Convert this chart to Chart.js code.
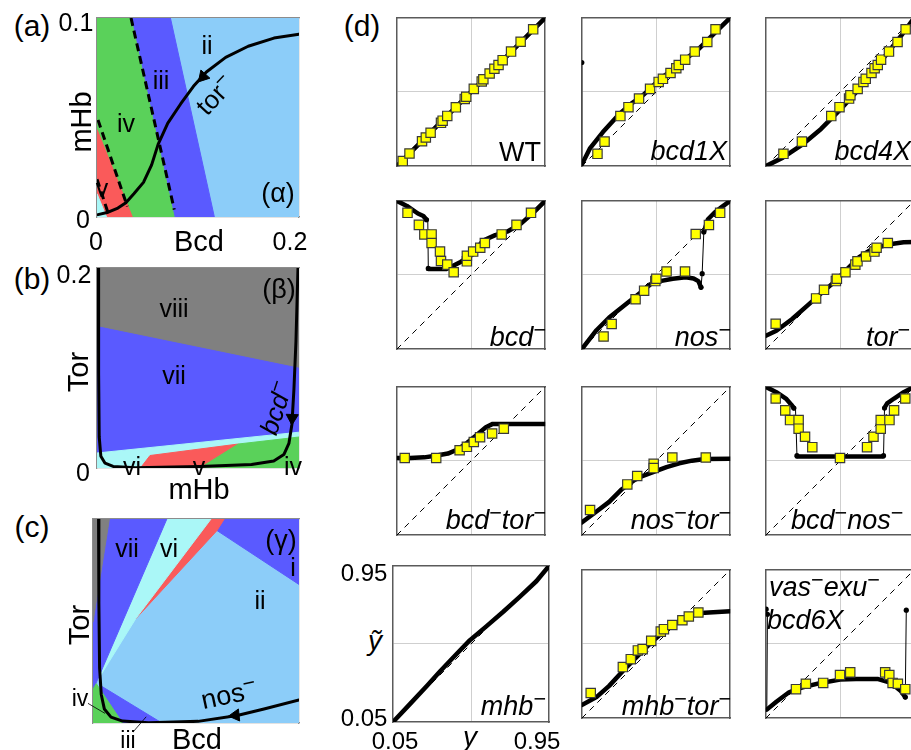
<!DOCTYPE html>
<html>
<head>
<meta charset="utf-8">
<script src="https://cdn.jsdelivr.net/npm/chart.js@4.4.1/dist/chart.umd.min.js"></script>
<style>
html, body { margin: 0; padding: 0; background: #fff; }
#fig { position: relative; width: 911px; height: 750px; overflow: hidden; background: #fff;
       font-family: 'Liberation Sans', Arial, sans-serif; color: #000; }
.box { position: absolute; }
.t { position: absolute; white-space: nowrap; line-height: 1; z-index: 5; }
.m { position: relative; top: -0.42em; font-size: 0.8em; font-style: normal; }
</style>
</head>
<body>
<div id="fig"></div>
<script>
// ---------- panel (a): Bcd / mHb phase plane ----------
const aBlue  = [[0, 0.1], [0.0727, 0.1], [0.1162, 0]];
const aGreen = [[0, 0.1], [0.0337, 0.1], [0.0764, 0]];
const aRed   = [[0, 0.044], [0.035, 0]];
const aCyan  = [[0, 0.0117], [0.0095, 0]];
const aDash1 = [[0.0337, 0.1], [0.0765, 0.0037]];
const aDash2 = [[0.001, 0.0488], [0.030, 0.0053]];
const aDash3 = [[0, 0.019], [0.011, 0.002]];
const aTor = [[0.001, 0.0012], [0.0111, 0.0024], [0.0207, 0.0045], [0.0286, 0.0072], [0.0365, 0.0117],
  [0.046, 0.0174], [0.0541, 0.0262], [0.0605, 0.0365], [0.0701, 0.0472], [0.0828, 0.0568],
  [0.0955, 0.0657], [0.1083, 0.0729], [0.1274, 0.0802], [0.1497, 0.0858], [0.1752, 0.0899], [0.2, 0.0919]];
const aArrow = [[0.105, 0.0705]];

// ---------- panel (b): mHb / Tor ----------
const bBlue  = [[0, 0.1414], [0.2, 0.0998]];
const bCyan  = [[0, 0.015], [0.2, 0.0358]];
const bRed   = [[0.043, 0], [0.0525, 0.0125], [0.140, 0.024]];
const bGreen = [[0.1019, 0], [0.140, 0.024], [0.2, 0.031]];
const bBcd = [[0.0013, 0.2], [0.0016, 0.095], [0.0022, 0.031], [0.0038, 0.0118], [0.008, 0.0048],
  [0.016, 0.0016], [0.038, 0.0003], [0.102, 0.0016], [0.153, 0.0035], [0.175, 0.007], [0.185, 0.0134],
  [0.190, 0.0246], [0.193, 0.0438], [0.195, 0.079], [0.197, 0.127], [0.199, 0.2]];
const bArrow = [[0.1932, 0.05]];

// ---------- panel (c): Bcd / Tor ----------
const cGray   = [[0, 0.0989], [0.0159, 0.2]];
const cViolet = [[0, 0.0321], [0.0717, 0.2]];
const cCyan   = [[0, 0.0347], [0.0414, 0.1021], [0.1146, 0.2]];
const cRed    = [[0.0414, 0.1021], [0.1204, 0.1887], [0.1274, 0.2]];
const cBlueI  = [[0.1204, 0.1887], [0.2, 0.1358]];
const cBlueIII = [[0.0064, 0.0372], [0.0669, 0]];
const cGreen  = [[0, 0.0331], [0.0032, 0.0385], [0.0287, 0]];
const cNos = [[0.0054, 0.2], [0.0057, 0.118], [0.0064, 0.054], [0.008, 0.028], [0.011, 0.0138],
  [0.0175, 0.0058], [0.0287, 0.0019], [0.054, 0.0003], [0.102, 0.0016], [0.140, 0.0074],
  [0.166, 0.0138], [0.2, 0.0225]];
const cArrow = [[0.1384, 0.0075]];
const cLeadIV  = [[-0.0048, 0.0192], [0.0114, 0.0096]];
const cLeadIII = [[0.039, -0.0087], [0.0514, 0.0058]];

// ---------- panel (d): model (curve) vs data (squares) ----------
const diag = [[0.05, 0.05], [0.95, 0.95]];

const wtCurve = [[0.05, 0.05], [0.95, 0.95]];
const wtSq = [[0.086, 0.081], [0.127, 0.127], [0.203, 0.201], [0.226, 0.224], [0.255, 0.253], [0.318, 0.313],
  [0.328, 0.326], [0.356, 0.355], [0.408, 0.407], [0.462, 0.458], [0.471, 0.471], [0.517, 0.519],
  [0.565, 0.564], [0.575, 0.577], [0.613, 0.612], [0.642, 0.641], [0.667, 0.664], [0.692, 0.693],
  [0.743, 0.745], [0.801, 0.805], [0.877, 0.880]];

const b1Curve = [[0.05, 0.06], [0.1005, 0.160], [0.178, 0.257], [0.275, 0.364], [0.352, 0.431], [0.410, 0.470],
  [0.468, 0.524], [0.526, 0.582], [0.602, 0.635], [0.681, 0.702], [0.758, 0.760], [0.855, 0.857], [0.95, 0.95]];
const b1Thin = [[0.05, 0.05], [0.05, 0.679]];
const b1Dots = [[0.05, 0.679]];
const b1Sq = [[0.145, 0.125], [0.188, 0.199], [0.284, 0.354], [0.333, 0.408], [0.397, 0.460], [0.464, 0.519],
  [0.516, 0.561], [0.542, 0.580], [0.588, 0.615], [0.623, 0.644], [0.638, 0.664], [0.677, 0.696],
  [0.735, 0.745], [0.811, 0.803], [0.861, 0.880]];

const b4Curve = [[0.05, 0.05], [0.153, 0.102], [0.269, 0.179], [0.385, 0.276], [0.501, 0.393], [0.598, 0.499],
  [0.694, 0.615], [0.791, 0.741], [0.869, 0.838], [0.95, 0.95]];
const b4Sq = [[0.157, 0.125], [0.269, 0.199], [0.447, 0.354], [0.497, 0.408], [0.555, 0.460], [0.563, 0.480],
  [0.607, 0.519], [0.642, 0.561], [0.656, 0.580], [0.691, 0.615], [0.710, 0.644], [0.729, 0.664],
  [0.749, 0.696], [0.797, 0.745], [0.849, 0.803], [0.898, 0.880]];

const bmCurve1 = [[0.05, 0.95], [0.111, 0.919], [0.178, 0.873], [0.211, 0.858], [0.230, 0.835]];
const bmThin = [[0.230, 0.835], [0.238, 0.823], [0.241, 0.540]];
const bmCurve2 = [[0.241, 0.537], [0.351, 0.537], [0.389, 0.554], [0.437, 0.579], [0.513, 0.627], [0.571, 0.708],
  [0.647, 0.742], [0.724, 0.765], [0.801, 0.810], [0.877, 0.877], [0.95, 0.95]];
const bmDots = [[0.230, 0.835], [0.241, 0.540]];
const bmSq = [[0.115, 0.877], [0.184, 0.804], [0.217, 0.746], [0.261, 0.746], [0.261, 0.694], [0.312, 0.642],
  [0.318, 0.585], [0.356, 0.563], [0.395, 0.517], [0.475, 0.583], [0.475, 0.617], [0.513, 0.642],
  [0.556, 0.665], [0.584, 0.694], [0.686, 0.746], [0.776, 0.804], [0.864, 0.877]];

const nmCurve1 = [[0.05, 0.05], [0.139, 0.165], [0.216, 0.242], [0.313, 0.319], [0.409, 0.396], [0.467, 0.444],
  [0.525, 0.463], [0.602, 0.477], [0.680, 0.486], [0.728, 0.479], [0.757, 0.463], [0.773, 0.425]];
const nmThin = [[0.773, 0.425], [0.780, 0.508], [0.790, 0.761]];
const nmCurve2 = [[0.790, 0.761], [0.815, 0.838], [0.854, 0.877], [0.902, 0.915], [0.95, 0.95]];
const nmDots = [[0.773, 0.425], [0.780, 0.508], [0.790, 0.761]];
const nmSq = [[0.182, 0.127], [0.231, 0.203], [0.376, 0.353], [0.428, 0.405], [0.496, 0.463], [0.502, 0.477],
  [0.564, 0.521], [0.676, 0.521], [0.741, 0.748], [0.821, 0.803], [0.889, 0.877]];

const tmCurve = [[0.05, 0.131], [0.114, 0.162], [0.210, 0.233], [0.307, 0.319], [0.384, 0.387], [0.461, 0.454],
  [0.539, 0.531], [0.616, 0.608], [0.693, 0.656], [0.790, 0.685], [0.886, 0.698], [0.95, 0.70]];
const tmSq = [[0.110, 0.204], [0.355, 0.358], [0.403, 0.410], [0.475, 0.463], [0.481, 0.477], [0.533, 0.517],
  [0.593, 0.563], [0.606, 0.583], [0.658, 0.612], [0.709, 0.642], [0.722, 0.665], [0.790, 0.694]];

const btCurve = [[0.05, 0.518], [0.130, 0.518], [0.217, 0.522], [0.284, 0.532], [0.360, 0.545], [0.418, 0.570],
  [0.475, 0.609], [0.533, 0.657], [0.590, 0.705], [0.632, 0.725], [0.95, 0.725]];
const btSq = [[0.098, 0.518], [0.289, 0.518], [0.431, 0.565], [0.475, 0.586], [0.517, 0.615], [0.555, 0.644],
  [0.628, 0.667], [0.699, 0.696]];

const ntCurve = [[0.05, 0.127], [0.139, 0.194], [0.216, 0.252], [0.293, 0.329], [0.370, 0.385], [0.409, 0.405],
  [0.486, 0.434], [0.564, 0.463], [0.641, 0.486], [0.718, 0.502], [0.796, 0.512], [0.95, 0.514]];
const ntSq = [[0.100, 0.203], [0.326, 0.358], [0.386, 0.409], [0.486, 0.483], [0.486, 0.457], [0.599, 0.521],
  [0.802, 0.521]];

const bnCurve1 = [[0.05, 0.95], [0.114, 0.917], [0.172, 0.879], [0.206, 0.840], [0.220, 0.821]];
const bnThin1 = [[0.220, 0.821], [0.230, 0.821], [0.239, 0.532]];
const bnCurve2 = [[0.239, 0.528], [0.761, 0.528]];
const bnThin2 = [[0.764, 0.532], [0.770, 0.821]];
const bnCurve3 = [[0.774, 0.830], [0.786, 0.850], [0.828, 0.879], [0.886, 0.917], [0.95, 0.95]];
const bnDots = [[0.220, 0.821], [0.239, 0.532], [0.764, 0.532], [0.770, 0.821]];
const bnSq = [[0.110, 0.879], [0.168, 0.807], [0.197, 0.748], [0.249, 0.748], [0.249, 0.696], [0.288, 0.647],
  [0.332, 0.584], [0.500, 0.518], [0.664, 0.584], [0.703, 0.647], [0.747, 0.696], [0.747, 0.748],
  [0.800, 0.748], [0.828, 0.807], [0.896, 0.879]];

const mhCurve = [[0.05, 0.05], [0.150, 0.156], [0.245, 0.258], [0.322, 0.343], [0.418, 0.444], [0.494, 0.522],
  [0.590, 0.603], [0.686, 0.686], [0.781, 0.772], [0.877, 0.862], [0.95, 0.95]];

const mtCurve = [[0.05, 0.130], [0.139, 0.178], [0.216, 0.246], [0.313, 0.351], [0.409, 0.447], [0.486, 0.523],
  [0.564, 0.590], [0.641, 0.638], [0.718, 0.672], [0.796, 0.690], [0.95, 0.699]];
const mtSq = [[0.104, 0.203], [0.299, 0.360], [0.347, 0.408], [0.390, 0.461], [0.419, 0.469], [0.471, 0.519],
  [0.529, 0.575], [0.548, 0.590], [0.599, 0.615], [0.660, 0.644], [0.699, 0.667], [0.757, 0.691]];

const veThinL = [[0.052, 0.711], [0.060, 0.680], [0.056, 0.102]];
const veCurve = [[0.056, 0.102], [0.114, 0.150], [0.191, 0.207], [0.268, 0.236], [0.384, 0.264], [0.500, 0.284],
  [0.597, 0.287], [0.732, 0.287], [0.809, 0.264], [0.867, 0.217], [0.896, 0.178]];
const veThinR = [[0.896, 0.178], [0.902, 0.705]];
const veDots = [[0.052, 0.711], [0.060, 0.680], [0.896, 0.178], [0.902, 0.705]];
const veSq = [[0.233, 0.226], [0.293, 0.259], [0.398, 0.264], [0.500, 0.312], [0.562, 0.328], [0.774, 0.328],
  [0.799, 0.312], [0.819, 0.264], [0.851, 0.259], [0.896, 0.226]];

// colours
const lightBlue = '#8ccdf9', blue = '#5a5aff', green = '#5ad15a', red = '#fa5a5a', cyan = '#aaf7f7', gray = '#808080';

const fig = document.getElementById('fig');
const pts = arr => arr.map(p => ({x: p[0], y: p[1]}));

// dataset helpers
const fillDs = (arr, color, fill) => ({data: pts(arr), borderColor: color, backgroundColor: color,
  borderWidth: 1, fill: fill, pointRadius: 0});
const lineDs = (arr, w, dash) => ({data: pts(arr), borderColor: '#000', borderWidth: w, borderDash: dash || [],
  fill: false, pointRadius: 0, borderCapStyle: dash ? 'butt' : 'round', borderJoinStyle: 'round'});
const dotDs = (arr, r) => ({data: pts(arr), showLine: false, pointRadius: r, pointBackgroundColor: '#000',
  pointBorderWidth: 0});
const sqDs = arr => ({data: pts(arr), showLine: false, pointStyle: 'rect', pointRadius: 6.6,
  pointBackgroundColor: '#ffff00', pointBorderColor: '#3a3a3a', pointBorderWidth: 1.2});
const arrowDs = (arr, rot) => ({data: pts(arr), showLine: false, pointStyle: 'triangle', pointRadius: 7,
  pointRotation: rot, pointBackgroundColor: '#000', pointBorderColor: '#000', pointBorderWidth: 1});

function scaleCfg(r, pos, grid, frame) {
  const s = {
    type: 'linear', position: pos, min: r[0], max: r[1],
    ticks: {display: false},
    grid: {display: false, drawTicks: false},
    border: {display: true, color: frame.color, width: frame.width}
  };
  if (grid && grid.length) {
    s.afterBuildTicks = sc => { sc.ticks = grid.map(v => ({value: v})); };
    s.grid = {display: true, drawTicks: false, color: '#cfcfcf', lineWidth: 1};
  }
  return s;
}

function addChart(box, xr, yr, datasets, grid, frame) {
  const pad = box.pad || [4, 4, 4, 4];  // left, top, right, bottom
  const w = box.w + pad[0] + pad[2], h = box.h + pad[1] + pad[3];
  const div = document.createElement('div');
  div.className = 'box';
  div.style.left = (box.l - pad[0]) + 'px';
  div.style.top = (box.t - pad[1]) + 'px';
  const cv = document.createElement('canvas');
  cv.width = w; cv.height = h;
  cv.style.width = w + 'px'; cv.style.height = h + 'px';
  div.appendChild(cv);
  fig.appendChild(div);
  // later entries are painted on top
  datasets.forEach((d, i) => { d.order = -i; });
  new Chart(cv, {
    type: 'line',
    data: {datasets: datasets},
    options: {
      responsive: false, animation: false, events: [],
      layout: {padding: {left: pad[0], top: pad[1], right: pad[2], bottom: pad[3]}},
      elements: {line: {tension: 0}},
      plugins: {legend: {display: false}, tooltip: {enabled: false}},
      scales: {
        x: scaleCfg(xr, 'bottom', grid, frame),
        y: scaleCfg(yr, 'left', grid, frame),
        x2: scaleCfg(xr, 'top', null, frame),
        y2: scaleCfg(yr, 'right', null, frame)
      }
    }
  });
}

function txt(html, x, y, o) {
  o = o || {};
  const s = document.createElement('div');
  s.className = 't';
  s.innerHTML = html;
  s.style.left = x + 'px';
  s.style.top = y + 'px';
  s.style.fontSize = (o.size || 24) + 'px';
  if (o.it) s.style.fontStyle = 'italic';
  const ax = o.anchor === 'r' ? '-100%' : o.anchor === 'l' ? '0%' : '-50%';
  s.style.transform = 'translate(' + ax + ',-50%)' + (o.rot ? ' rotate(' + o.rot + 'deg)' : '');
  fig.appendChild(s);
}
const M = '<span class="m">\u2212</span>';

// ---------- left panels ----------
const leftFrame = {color: '#8c8c8c', width: 1.2};

addChart({l: 93, t: 14, w: 210, h: 207}, [0, 0.2], [0, 0.1], [
  fillDs([[0, 0.1], [0.2, 0.1]], lightBlue, 'start'),
  fillDs(aBlue, blue, 'start'),
  fillDs(aGreen, green, 'start'),
  fillDs(aRed, red, 'start'),
  fillDs(aCyan, cyan, 'start'),
  lineDs(aDash1, 3, [8, 5]),
  lineDs(aDash2, 3, [8, 5]),
  lineDs(aDash3, 3, [8, 5]),
  lineDs(aTor, 3),
  arrowDs(aArrow, 222)
], null, leftFrame);

addChart({l: 93, t: 264, w: 210, h: 208}, [0, 0.2], [0, 0.2], [
  fillDs([[0, 0.2], [0.2, 0.2]], gray, 'start'),
  fillDs(bBlue, blue, 'start'),
  fillDs(bCyan, cyan, 'start'),
  fillDs(bRed, red, 'start'),
  fillDs(bGreen, green, 'start'),
  lineDs(bBcd, 3),
  arrowDs(bArrow, 182)
], null, leftFrame);

const leadIV = lineDs(cLeadIV, 0.8); leadIV.clip = false;
const leadIII = lineDs(cLeadIII, 0.8); leadIII.clip = false;
addChart({l: 93, t: 515, w: 210, h: 208, pad: [24, 4, 4, 26]}, [0, 0.2], [0, 0.2], [
  fillDs([[0, 0.2], [0.2, 0.2]], lightBlue, 'start'),
  fillDs(cBlueI, blue, 'end'),
  fillDs(cRed, red, 'end'),
  fillDs(cCyan, cyan, 'end'),
  fillDs(cViolet, blue, 'end'),
  fillDs(cGray, gray, 'end'),
  fillDs(cBlueIII, blue, 'start'),
  fillDs(cGreen, green, 'start'),
  lineDs(cNos, 3),
  arrowDs(cArrow, 264),
  leadIV, leadIII
], null, leftFrame);

// ---------- grid of small panels (d) ----------
const cols = [393, 578, 762], rows = [14, 197, 383, 566];
const dFrame = {color: '#5a5a5a', width: 1.5};
const dRange = [0.05, 0.95], dGrid = [0.5];

function dPanel(c, r, parts) {
  const ds = [lineDs(diag, 1, [6, 5])];
  (parts.thin || []).forEach(a => ds.push(lineDs(a, 1)));
  (parts.thick || []).forEach(a => ds.push(lineDs(a, 4.5)));
  if (parts.dots) ds.push(dotDs(parts.dots, 2.6));
  if (parts.sq) ds.push(sqDs(parts.sq));
  addChart({l: cols[c], t: rows[r], w: 156, h: 156}, dRange, dRange, ds, dGrid, dFrame);
}

dPanel(0, 0, {thick: [wtCurve], sq: wtSq});
dPanel(1, 0, {thin: [b1Thin], thick: [b1Curve], dots: b1Dots, sq: b1Sq});
dPanel(2, 0, {thick: [b4Curve], sq: b4Sq});
dPanel(0, 1, {thin: [bmThin], thick: [bmCurve1, bmCurve2], dots: bmDots, sq: bmSq});
dPanel(1, 1, {thin: [nmThin], thick: [nmCurve1, nmCurve2], dots: nmDots, sq: nmSq});
dPanel(2, 1, {thick: [tmCurve], sq: tmSq});
dPanel(0, 2, {thick: [btCurve], sq: btSq});
dPanel(1, 2, {thick: [ntCurve], sq: ntSq});
dPanel(2, 2, {thin: [bnThin1, bnThin2], thick: [bnCurve1, bnCurve2, bnCurve3], dots: bnDots, sq: bnSq});
dPanel(0, 3, {thick: [mhCurve]});
dPanel(1, 3, {thick: [mtCurve], sq: mtSq});
dPanel(2, 3, {thin: [veThinL, veThinR], thick: [veCurve], dots: veDots, sq: veSq});

// ---------- text ----------
const P = 30, AX = 29, TK = 25, RG = 25;
// (a)
txt('(a)', 32, 26, {size: P});
txt('0.1', 76, 22, {size: TK});
txt('0', 83, 219, {size: TK});
txt('0', 96, 241, {size: TK});
txt('Bcd', 199, 241, {size: AX});
txt('0.2', 290, 241, {size: TK});
txt('mHb', 81, 122, {size: AX, rot: -90});
txt('ii', 207, 45, {size: RG});
txt('iii', 161, 80, {size: RG});
txt('iv', 126, 123, {size: RG});
txt('v', 102, 188, {size: RG});
txt('(\u03b1)', 278, 193, {size: 27});
txt('tor' + M, 215, 95, {size: 26, rot: -47});
// (b)
txt('(b)', 32, 279, {size: P});
txt('0.2', 74, 274, {size: TK});
txt('0', 83, 472, {size: TK});
txt('Tor', 78, 372, {size: AX, rot: -90});
txt('mHb', 199, 489, {size: AX});
txt('viii', 174, 308, {size: RG});
txt('vii', 174, 375, {size: RG});
txt('(\u03b2)', 279, 289, {size: 27});
txt('bcd' + M, 276, 408, {size: 26, it: true, rot: -72});
txt('vi', 132, 466, {size: RG});
txt('v', 199, 466, {size: RG});
txt('iv', 293, 466, {size: RG});
// (c)
txt('(c)', 32, 527, {size: P});
txt('Tor', 79, 625, {size: AX, rot: -90});
txt('Bcd', 197, 739, {size: AX});
txt('vii', 127, 548, {size: RG});
txt('vi', 169, 548, {size: RG});
txt('(\u03b3)', 281, 540, {size: 27});
txt('i', 293, 567, {size: RG});
txt('ii', 260, 600, {size: RG});
txt('nos' + M, 229, 695, {size: 27, rot: -12});
txt('iv', 80, 698, {size: 23});
txt('iii', 128, 740, {size: 23});
// (d)
txt('(d)', 362, 26, {size: P});
const L = 27;
txt('WT', 541, 152, {size: L, anchor: 'r'});
txt('bcd1X', 727, 151, {size: L, it: true, anchor: 'r'});
txt('bcd4X', 911, 151, {size: L, it: true, anchor: 'r'});
txt('bcd' + M, 546, 337, {size: L, it: true, anchor: 'r'});
txt('nos' + M, 731, 337, {size: L, it: true, anchor: 'r'});
txt('tor' + M, 866, 337, {size: L, it: true, anchor: 'l'});
txt('bcd' + M + 'tor' + M, 546, 520, {size: L, it: true, anchor: 'r'});
txt('nos' + M + 'tor' + M, 731, 520, {size: L, it: true, anchor: 'r'});
txt('bcd' + M + 'nos' + M, 791, 520, {size: L, it: true, anchor: 'l'});
txt('mhb' + M, 546, 706, {size: L, it: true, anchor: 'r'});
txt('mhb' + M + 'tor' + M, 731, 706, {size: L, it: true, anchor: 'r'});
txt('vas' + M + 'exu' + M, 769, 587, {size: L, it: true, anchor: 'l'});
txt('bcd6X', 767, 620, {size: L, it: true, anchor: 'l'});
txt('0.95', 364, 573, {size: 24});
txt('0.05', 364, 718, {size: 24});
txt('\u1ef9', 375, 641, {size: 28, it: true});
txt('0.05', 395, 741, {size: 24});
txt('y', 470, 737, {size: 28, it: true});
txt('0.95', 537, 741, {size: 24});
</script>
</body>
</html>
